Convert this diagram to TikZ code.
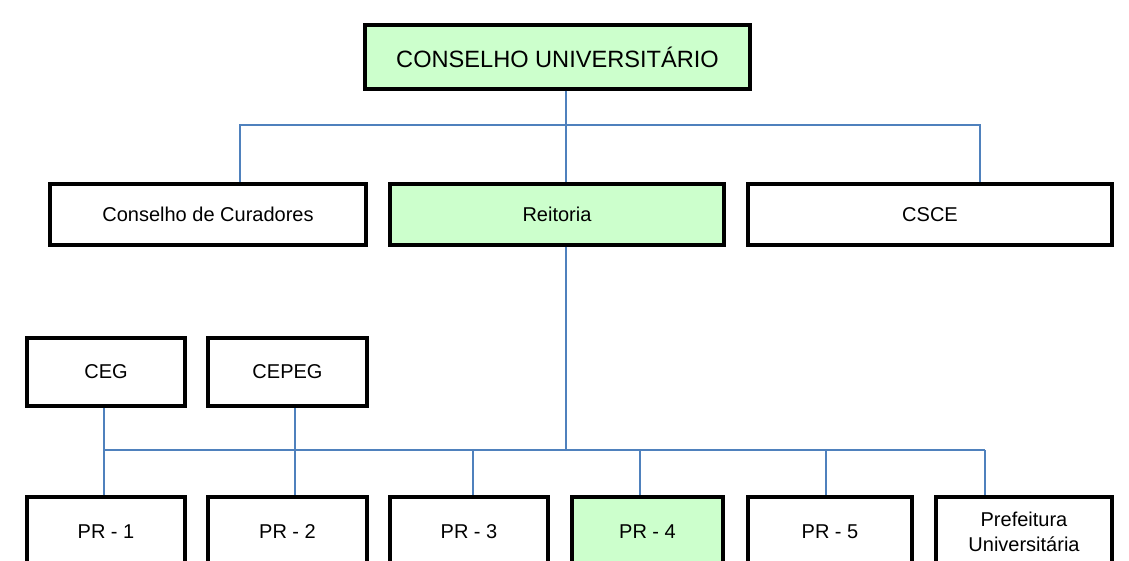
\documentclass[tikz,border=0pt]{standalone}
\usepackage{fontspec}
\setmainfont{Liberation Sans}
\definecolor{boxgreen}{RGB}{204,255,204}
\definecolor{linkblue}{RGB}{79,129,189}
\begin{document}
\begin{tikzpicture}[x=1pt,y=-1pt,
  box/.style={draw=black, line width=3.5pt, rectangle, inner sep=0pt, align=center,
              font=\fontsize{20}{26}\selectfont},
  greenbox/.style={box, fill=boxgreen},
  conn/.style={draw=linkblue, line width=1.6pt}]
\useasboundingbox (0,0) rectangle (1129,561);
\fill[white] (0,0) rectangle (1129,561);
\clip (0,0) rectangle (1129,561);
% top
\node[greenbox, minimum width=385pt, minimum height=64pt, font=\fontsize{23.6}{28}\selectfont] (cu) at (557.5,57) {CONSELHO UNIVERSITÁRIO};
% row 2
\node[box, minimum width=316pt, minimum height=61pt] (cc) at (208,214.5) {Conselho de Curadores};
\node[greenbox, minimum width=334pt, minimum height=61pt] (rei) at (557,214.5) {Reitoria};
\node[box, minimum width=364pt, minimum height=61pt] (csce) at (930,214.5) {CSCE};
% row 3
\node[box, minimum width=158pt, minimum height=68pt] (ceg) at (106,372) {CEG};
\node[box, minimum width=159pt, minimum height=68pt] (cepeg) at (287.5,372) {CEPEG};
% row 4
\node[box, minimum width=158pt, minimum height=69pt] (pr1) at (106,531.5) {PR - 1};
\node[box, minimum width=159pt, minimum height=69pt] (pr2) at (287.5,531.5) {PR - 2};
\node[box, minimum width=158pt, minimum height=69pt] (pr3) at (469,531.5) {PR - 3};
\node[greenbox, minimum width=151pt, minimum height=69pt] (pr4) at (647.5,531.5) {PR - 4};
\node[box, minimum width=164pt, minimum height=69pt] (pr5) at (830,531.5) {PR - 5};
\node[box, minimum width=176pt, minimum height=69pt] (pref) at (1024,531.5) {Prefeitura\\[-1pt]Universitária};
% junctions
\coordinate (j1) at (566,125);
\coordinate (j2) at (566,450);
% connectors top
\draw[conn] (cu.south -| j1) -- (rei.north -| j1);
\draw[conn] ([xshift=32pt]cc.north) |- (j1) -| ([xshift=50pt]csce.north);
% connectors bottom
\draw[conn] (rei.south -| j2) -- (j2);
\draw[conn] ([xshift=-2pt]ceg.south |- j2) -- ([xshift=-39pt]pref.north |- j2);
\draw[conn] ([xshift=-2pt]ceg.south) -- ([xshift=-2pt]pr1.north);
\draw[conn] ([xshift=7.5pt]cepeg.south) -- ([xshift=7.5pt]pr2.north);
\draw[conn] ([xshift=4pt]pr3.north |- j2) -- ([xshift=4pt]pr3.north);
\draw[conn] ([xshift=-7.5pt]pr4.north |- j2) -- ([xshift=-7.5pt]pr4.north);
\draw[conn] ([xshift=-4pt]pr5.north |- j2) -- ([xshift=-4pt]pr5.north);
\draw[conn] ([xshift=-39pt]pref.north |- j2) -- ([xshift=-39pt]pref.north);
\end{tikzpicture}
\end{document}
